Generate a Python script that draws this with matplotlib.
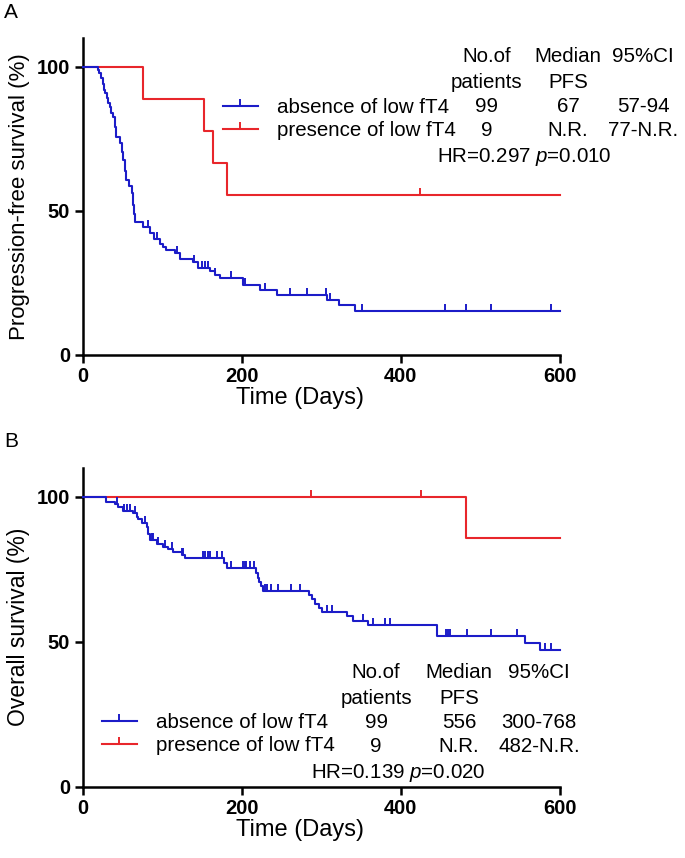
import numpy as np
import matplotlib
matplotlib.use("Agg")
import matplotlib.pyplot as plt
from matplotlib.lines import Line2D
from matplotlib.path import Path

plt.rcParams['font.family'] = ['Liberation Sans', 'DejaVu Sans']
plt.rcParams['mathtext.fontset'] = 'custom'
plt.rcParams['mathtext.rm'] = 'Liberation Sans'
plt.rcParams['mathtext.it'] = 'Liberation Sans:italic'

BLUE = '#1c1cc8'
RED = '#e8262b'

# ---- panel A: progression-free survival ----
pfs_abs_t = [0, 19.6, 21, 23, 25, 26.5, 28, 30, 32, 34, 36, 38.5, 40, 41.5, 47, 49, 51, 53, 55, 58,
             61.6, 63, 64.5, 65.8, 76, 84, 90, 97, 101, 105, 116, 122, 139, 145, 160, 166, 172,
             202, 223, 244, 307, 322, 342]
pfs_abs_s = [100, 99, 98, 96, 94, 92, 90.8, 89, 87.3, 86, 84, 82.7, 79, 75.7, 73.5, 70.5, 67.6, 64, 60.7, 58.5,
             56.1, 52, 49, 46.2, 44.4, 42.4, 40.4, 38.4, 37.4, 36.4, 35.4, 33.3, 32.3, 30.3, 29.3, 27.7, 26.6,
             24.4, 22.6, 20.8, 19.1, 17.2, 15.4]
pfs_abs_cens = [82, 93, 118, 139.5, 150, 154, 158, 166.5, 187, 204, 229, 261, 282, 306, 311, 351,
                456, 482, 513, 589]
pfs_pre_t = [0, 76, 152, 164, 181]
pfs_pre_s = [100, 88.9, 77.8, 66.7, 55.6]
pfs_pre_cens = [424]

# ---- panel B: overall survival ----
os_abs_t = [0, 29.3, 40.6, 44, 51, 63.7, 68, 70, 74.2, 80.5, 82.6, 84, 93, 101.4, 107.7, 114, 124.5,
            128.7, 177, 181, 218, 220, 222, 224.5, 227, 284, 288, 292, 296.5, 301, 332, 340, 359,
            445, 556, 575]
os_abs_s = [100, 98.3, 97.5, 96.3, 95.2, 94.3, 92.9, 92.2, 91.0, 89.7, 87.2, 85.1, 83.7, 82.8, 81.9, 81.0, 79.9,
            78.8, 77.0, 75.3, 73.7, 72.1, 70.6, 69.1, 67.6, 66.1, 64.6, 63.1, 61.6, 60.3, 58.7, 57.3, 55.8,
            52.1, 49.7, 47.1]
os_abs_cens = [42.7, 52.4, 55.3, 59.5, 65.8, 78.4, 86.8, 88.9, 95.2, 103.6, 112, 125.3, 126.7,
               151.7, 153.8, 157.2, 160, 168.5, 174.8, 187, 202, 203.5, 205, 210, 215.5, 229, 232,
               236.5, 246, 261.6, 273.3, 307, 313, 352, 365.5, 380, 386.5, 457, 459, 462, 483,
               513.6, 546, 581.5, 589]
os_pre_t = [0, 482]
os_pre_s = [100, 85.7]
os_pre_cens = [287, 425]

groups = ['absence of low fT4', 'presence of low fT4']
n_patients = ['99', '9']
pfs_median = ['67', 'N.R.']
pfs_ci = ['57-94', '77-N.R.']
os_median = ['556', 'N.R.']
os_ci = ['300-768', '482-N.R.']
pfs_hr = 'HR=0.297 $\\mathit{p}$=0.010'
os_hr = 'HR=0.139 $\\mathit{p}$=0.020'

T_END = 600
W, H = 685, 858
tick_mark = Path([(0, 0), (0, 1)])


def fx(px):
    return px / W


def fy(py):
    return 1 - py / H


def km(ax, t, s, cens, color, z):
    tt = list(t) + [T_END]
    ss = list(s) + [s[-1]]
    ax.step(tt, ss, where='post', color=color, lw=1.5, zorder=z, clip_on=False)
    idx = np.searchsorted(t, cens, side='right') - 1
    ax.plot(cens, np.array(s)[idx], ls='none', marker=tick_mark, ms=10, mew=1.4,
            color=color, zorder=z, clip_on=False)


def style(ax, ylabel, yfs):
    ax.set_xlim(0, 600)
    ax.set_ylim(0, 110)
    ax.set_xticks([0, 200, 400, 600])
    ax.set_yticks([0, 50, 100])
    for sp in ['top', 'right']:
        ax.spines[sp].set_visible(False)
    for sp in ['left', 'bottom']:
        ax.spines[sp].set_linewidth(1.8)
    ax.tick_params(width=1.8, length=6, labelsize=14.5, pad=3)
    for lab in ax.get_xticklabels() + ax.get_yticklabels():
        lab.set_fontweight('bold')
    ax.set_xlabel('Time (Days)', fontsize=17)
    ax.xaxis.set_label_coords(0.455, -0.1)
    ax.set_ylabel(ylabel, fontsize=yfs, labelpad=5)


fig = plt.figure(figsize=(6.85, 8.58), dpi=100)
axA = fig.add_axes([fx(82.7), fy(355), fx(560) - fx(82.7), 0.3695])
axB = fig.add_axes([fx(82.7), fy(786.7), fx(560) - fx(82.7), 0.3718])

km(axA, pfs_pre_t, pfs_pre_s, pfs_pre_cens, RED, 2)
km(axA, pfs_abs_t, pfs_abs_s, pfs_abs_cens, BLUE, 3)
km(axB, os_pre_t, os_pre_s, os_pre_cens, RED, 2)
km(axB, os_abs_t, os_abs_s, os_abs_cens, BLUE, 3)
style(axA, 'Progression-free survival (%)', 16)
style(axB, 'Overall survival (%)', 16.5)

handles = [Line2D([], [], color=BLUE, lw=1.5, marker=tick_mark, ms=10, mew=1.4),
           Line2D([], [], color=RED, lw=1.5, marker=tick_mark, ms=10, mew=1.4)]

FS = 14.8


def table(ax, hx, rows_y, cols_x, hdr_y, med, ci, hr, hr_xy):
    ax.legend(handles, groups, loc='center left', bbox_to_anchor=(fx(hx), fy(sum(rows_y) / 2)),
              bbox_transform=fig.transFigure, frameon=False, fontsize=FS, numpoints=1,
              handlelength=1.7, handletextpad=0.95, labelspacing=0.22, borderpad=0, borderaxespad=0)
    fig.text(fx(cols_x[0]), fy(hdr_y[0]), 'No.of', ha='center', va='center', fontsize=FS)
    fig.text(fx(cols_x[0]), fy(hdr_y[1]), 'patients', ha='center', va='center', fontsize=FS)
    fig.text(fx(cols_x[1]), fy(hdr_y[0]), 'Median', ha='center', va='center', fontsize=FS)
    fig.text(fx(cols_x[1]), fy(hdr_y[1]), 'PFS', ha='center', va='center', fontsize=FS)
    fig.text(fx(cols_x[2]), fy(hdr_y[0]), '95%CI', ha='center', va='center', fontsize=FS)
    for i in range(2):
        fig.text(fx(cols_x[0]), fy(rows_y[i]), n_patients[i], ha='center', va='center', fontsize=FS)
        fig.text(fx(cols_x[1]), fy(rows_y[i]), med[i], ha='center', va='center', fontsize=FS)
        fig.text(fx(cols_x[2]), fy(rows_y[i]), ci[i], ha='center', va='center', fontsize=FS)
    fig.text(fx(hr_xy[0]), fy(hr_xy[1]), hr, ha='center', va='center', fontsize=FS)


table(axA, 223, [107, 131], [487, 568, 643], [57, 82], pfs_median, pfs_ci, pfs_hr, (524, 157))
table(axB, 101.7, [722, 746], [376, 459, 539], [673, 698], os_median, os_ci, os_hr, (398, 773))

fig.text(fx(4), fy(3), 'A', ha='left', va='top', fontsize=15)
fig.text(fx(4), fy(432), 'B', ha='left', va='top', fontsize=15)

fig.savefig('out.png', dpi=100)
